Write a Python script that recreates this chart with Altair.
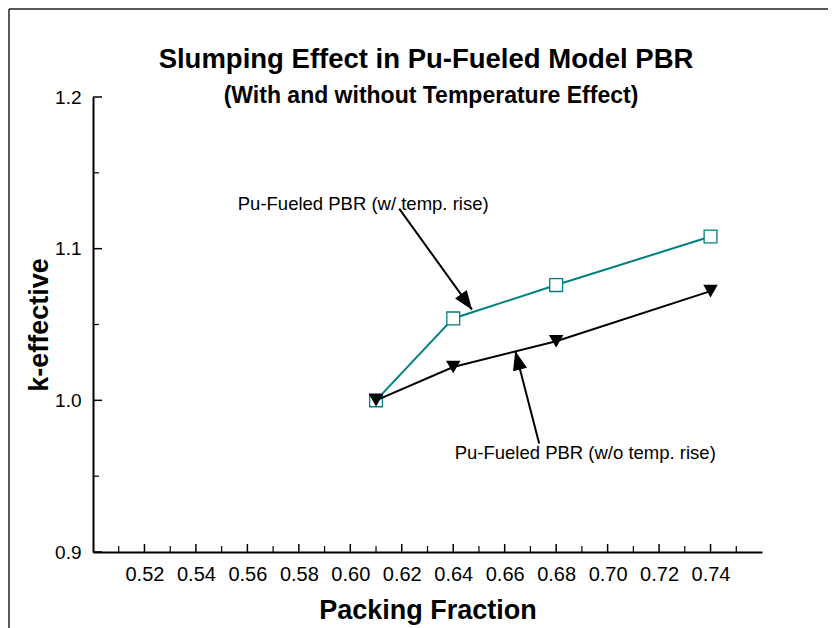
import altair as alt
import pandas as pd

# ---------------- data ----------------
packing_fraction = [0.61, 0.64, 0.68, 0.74]
k_with_temp = [1.000, 1.054, 1.076, 1.108]
k_without_temp = [1.000, 1.022, 1.039, 1.072]

x_major_ticks = [0.52, 0.54, 0.56, 0.58, 0.60, 0.62, 0.64, 0.66, 0.68, 0.70, 0.72, 0.74]
x_minor_ticks = [0.51, 0.53, 0.55, 0.57, 0.59, 0.61, 0.63, 0.65, 0.67, 0.69, 0.71, 0.73, 0.75]
y_major_ticks = [0.9, 1.0, 1.1, 1.2]
y_minor_ticks = [0.95, 1.05, 1.15]

title_lines = ["Slumping Effect in Pu-Fueled Model PBR", "(With and without Temperature Effect)"]
x_title = "Packing Fraction"
y_title = "k-effective"

ann_text = ["Pu-Fueled PBR (w/ temp. rise)", "Pu-Fueled PBR (w/o temp. rise)"]
ann_text_x = [0.6050, 0.6913]
ann_text_y = [1.1257, 0.9616]
arrow_from_x = [0.6190, 0.6734]
arrow_from_y = [1.1264, 0.9715]
arrow_to_x = [0.6473, 0.6641]
arrow_to_y = [1.0598, 1.0325]
arrow_angle = [144.3, 345.5]

# ---------------- layout ----------------
W, H = 669, 455
PAD = {"left": 85, "top": 89, "right": 66, "bottom": 76}
FONT = "Liberation Sans"
TEAL = "#008080"

xs = alt.Scale(domain=[0.50, 0.76], nice=False, zero=False)
ys = alt.Scale(domain=[0.9, 1.2], nice=False, zero=False)

x_axis = alt.Axis(values=x_major_ticks, format=".2f", title=x_title, grid=False,
                  ticks=False, tickSize=0, labelPadding=12, labelFontSize=20, labelFont=FONT,
                  labelColor="black", domainColor="black", domainWidth=2,
                  titleFont=FONT, titleFontSize=27, titleFontWeight="bold", titleColor="black",
                  titleX=W / 2, titleY=66, titleAlign="center", titleBaseline="alphabetic")
y_axis = alt.Axis(values=y_major_ticks, format=".1f", title=y_title, grid=False,
                  ticks=False, tickSize=0, labelPadding=12, labelFontSize=19, labelFont=FONT,
                  labelColor="black", domainColor="black", domainWidth=2,
                  titleFont=FONT, titleFontSize=27, titleFontWeight="bold", titleColor="black",
                  titleX=-46, titleY=H / 2, titleAngle=270, titleAlign="center",
                  titleBaseline="alphabetic")


def X(field):
    return alt.X(field, scale=xs, axis=x_axis)


def Y(field):
    return alt.Y(field, scale=ys, axis=y_axis)


with_df = pd.DataFrame({"pf": packing_fraction, "k": k_with_temp})
without_df = pd.DataFrame({"pf": packing_fraction, "k": k_without_temp})

teal_line = alt.Chart(with_df).mark_line(color=TEAL, strokeWidth=2).encode(x=X("pf:Q"), y=Y("k:Q"))
teal_pts = alt.Chart(with_df).mark_point(
    shape="square", filled=True, fill="white", stroke=TEAL, strokeWidth=1.3,
    size=165, opacity=1
).encode(x=X("pf:Q"), y=Y("k:Q"))

black_line = alt.Chart(without_df).mark_line(color="black", strokeWidth=2).encode(x=X("pf:Q"), y=Y("k:Q"))
black_pts = alt.Chart(without_df).mark_point(
    shape="triangle-down", filled=True, color="black", size=210, opacity=1
).encode(x=X("pf:Q"), y=Y("k:Q"))

# inward ticks
xmaj = alt.Chart(pd.DataFrame({"pf": x_major_ticks})).mark_rule(color="black", strokeWidth=1.5).encode(
    x=X("pf:Q"), y=alt.value(H), y2=alt.value(H - 8))
xmin = alt.Chart(pd.DataFrame({"pf": x_minor_ticks})).mark_rule(color="black", strokeWidth=1.2).encode(
    x=X("pf:Q"), y=alt.value(H), y2=alt.value(H - 6))
ymaj = alt.Chart(pd.DataFrame({"k": y_major_ticks})).mark_rule(color="black", strokeWidth=1.5).encode(
    y=Y("k:Q"), x=alt.value(0), x2=alt.value(9))
ymin = alt.Chart(pd.DataFrame({"k": y_minor_ticks})).mark_rule(color="black", strokeWidth=1.2).encode(
    y=Y("k:Q"), x=alt.value(0), x2=alt.value(6))

# annotations
ann_df = pd.DataFrame({
    "label": ann_text, "tx": ann_text_x, "ty": ann_text_y,
    "x0": arrow_from_x, "y0": arrow_from_y, "x1": arrow_to_x, "y1": arrow_to_y,
    "angle": arrow_angle,
})
ann_labels = alt.Chart(ann_df).mark_text(
    font=FONT, fontSize=18.5, color="black", align="center", baseline="alphabetic"
).encode(x=X("tx:Q"), y=Y("ty:Q"), text="label:N")
shafts = alt.Chart(ann_df).mark_rule(color="black", strokeWidth=2).encode(
    x=X("x0:Q"), y=Y("y0:Q"), x2="x1:Q", y2="y1:Q")
heads = alt.Chart(ann_df).mark_point(
    shape="M0,0L-0.38,1L0.38,1Z", filled=True, color="black", size=1444, opacity=1, strokeWidth=0
).encode(x=X("x1:Q"), y=Y("y1:Q"), angle=alt.Angle("angle:Q", scale=None))

# titles
title_df = pd.DataFrame({"t": [title_lines[0]]})
sub_df = pd.DataFrame({"t": [title_lines[1]]})
title_mark = alt.Chart(title_df).mark_text(
    font=FONT, fontSize=27.5, fontWeight="bold", color="black", align="center", baseline="alphabetic"
).encode(x=alt.value(333), y=alt.value(-29), text="t:N")
sub_mark = alt.Chart(sub_df).mark_text(
    font=FONT, fontSize=23, fontWeight="bold", color="black", align="center", baseline="alphabetic"
).encode(x=alt.value(338), y=alt.value(6), text="t:N")

# outer frame (top and left edges)
frame_df = pd.DataFrame({"a": [0]})
frame_top = alt.Chart(frame_df).mark_rule(color="#222222", strokeWidth=1.5).encode(
    x=alt.value(-84), x2=alt.value(W + PAD["right"] + 5), y=alt.value(-88))
frame_left = alt.Chart(frame_df).mark_rule(color="#222222", strokeWidth=1.5).encode(
    x=alt.value(-84), y=alt.value(-88), y2=alt.value(H + PAD["bottom"] + 5))

chart = alt.layer(
    teal_line, xmaj, xmin, ymaj, ymin, teal_pts, black_line, black_pts,
    shafts, heads, ann_labels, title_mark, sub_mark, frame_top, frame_left
).properties(
    width=W, height=H,
    autosize=alt.AutoSizeParams(type="none"),
    padding=PAD,
    background="white",
).configure_view(stroke=None)

chart.save("out.html", embed_options={"renderer": "svg", "actions": False})
